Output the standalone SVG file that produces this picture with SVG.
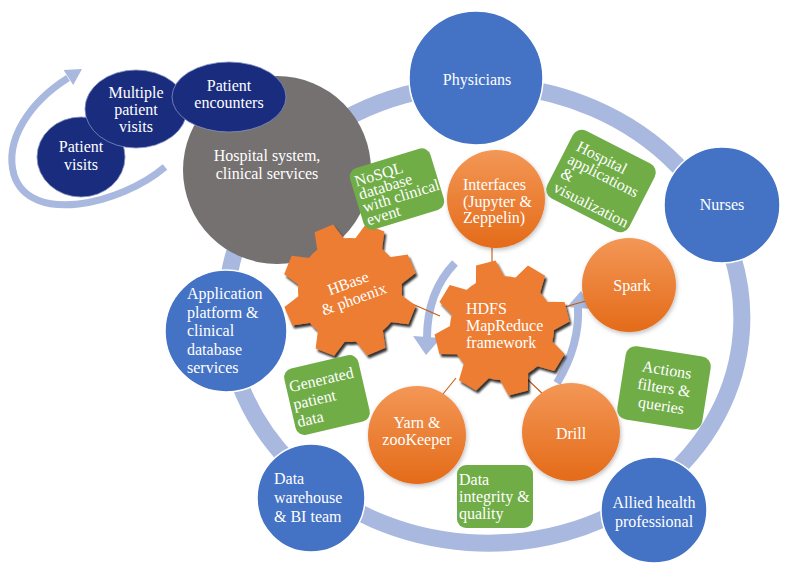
<svg xmlns="http://www.w3.org/2000/svg" xmlns:xlink="http://www.w3.org/1999/xlink" width="789" height="571" viewBox="0 0 789 571">
<style>
text{font-family:"Liberation Serif","DejaVu Serif",serif;fill:#fff;font-size:16px}
.mid{text-anchor:middle}
.blue{fill:#4472C4;stroke:#fff;stroke-width:1.5}
.navy{fill:#1A2C7E;stroke:#8390c0;stroke-width:0.8}
.green{fill:#70AD47}
.orange{fill:url(#og)}
.gear{fill:#ED7D31}
.link{stroke:#C55A11;stroke-width:1.1;fill:none}
.arc{fill:none;stroke:#A9B8DE}
.ah{fill:#A9B8DE}
</style>
<defs>
<linearGradient id="og" x1="0" y1="0" x2="0" y2="1">
<stop offset="0" stop-color="#F39756"/>
<stop offset="1" stop-color="#E46B19"/>
</linearGradient>
<filter id="gs" x="-20%" y="-20%" width="150%" height="150%">
<feDropShadow dx="2" dy="3" stdDeviation="1.2" flood-color="#000" flood-opacity="0.8"/>
</filter>
<filter id="cs" x="-20%" y="-20%" width="150%" height="150%">
<feDropShadow dx="1" dy="2" stdDeviation="2" flood-color="#000" flood-opacity="0.25"/>
</filter>
<polygon id="tooth" points="44,-16 67,-10 67,10 44,16"/>
<g id="gearshape">
<circle r="52"/>
<use xlink:href="#tooth"/>
<use xlink:href="#tooth" transform="rotate(45)"/>
<use xlink:href="#tooth" transform="rotate(90)"/>
<use xlink:href="#tooth" transform="rotate(135)"/>
<use xlink:href="#tooth" transform="rotate(180)"/>
<use xlink:href="#tooth" transform="rotate(225)"/>
<use xlink:href="#tooth" transform="rotate(270)"/>
<use xlink:href="#tooth" transform="rotate(315)"/>
</g>
</defs>
<rect width="789" height="571" fill="#fff"/>

<g id="ring">
<ellipse cx="484" cy="314" rx="258" ry="229" transform="rotate(4 484 314)" class="arc" stroke-width="17"/>
</g>

<g id="connectors">
<path class="arc" stroke-width="7" d="M165 167 C120 205 30 225 14 175 C4 140 30 102 68 78"/>
<polygon class="ah" points="82,69 73.2,85.1 63.6,69.9"/>
<path class="arc" stroke-width="8" d="M455 263 Q427 292 427 338"/>
<polygon class="ah" points="426,355 413,336 441,338"/>
<path class="arc" stroke-width="8" d="M557 383 Q580 345 578 306"/>
<polygon class="ah" points="581,291 567,307 591,309"/>
<line class="link" x1="492" y1="246" x2="492" y2="262"/>
<line class="link" x1="410" y1="303" x2="440" y2="316"/>
<line class="link" x1="546" y1="312" x2="586" y2="301"/>
<line class="link" x1="456" y1="378" x2="443" y2="394"/>
<line class="link" x1="526" y1="378" x2="546" y2="397"/>
</g>

<g id="hospital">
<circle cx="277" cy="170" r="94" fill="#767171"/>
<text class="mid" x="267" y="161">Hospital system,</text>
<text class="mid" x="267" y="179">clinical services</text>
</g>
<g id="patient-visits">
<ellipse class="navy" cx="81" cy="157" rx="44" ry="40"/>
<text class="mid" x="81" y="152">Patient</text>
<text class="mid" x="81" y="170">visits</text>
</g>
<g id="multiple-visits">
<ellipse class="navy" cx="136" cy="109" rx="51" ry="39"/>
<text class="mid" x="136" y="98">Multiple</text>
<text class="mid" x="136" y="115">patient</text>
<text class="mid" x="136" y="132">visits</text>
</g>
<g id="patient-encounters">
<ellipse class="navy" cx="229" cy="97" rx="57" ry="35"/>
<text class="mid" x="229" y="91">Patient</text>
<text class="mid" x="229" y="108">encounters</text>
</g>

<g id="physicians">
<circle class="blue" cx="476" cy="78" r="67"/>
<text class="mid" x="477" y="85">Physicians</text>
</g>
<g id="nurses">
<circle class="blue" cx="722" cy="205" r="58"/>
<text class="mid" x="722" y="210">Nurses</text>
</g>
<g id="allied">
<circle class="blue" cx="654" cy="510" r="53"/>
<text class="mid" x="654" y="508">Allied health</text>
<text class="mid" x="654" y="527">professional</text>
</g>
<g id="warehouse">
<circle class="blue" cx="311" cy="498" r="54"/>
<text x="274" y="484">Data</text>
<text x="274" y="503">warehouse</text>
<text x="274" y="522">&amp; BI team</text>
</g>
<g id="application">
<circle class="blue" cx="226" cy="331" r="61"/>
<text x="187" y="299">Application</text>
<text x="187" y="317.5">platform &amp;</text>
<text x="187" y="336">clinical</text>
<text x="187" y="354.5">database</text>
<text x="187" y="373">services</text>
</g>

<g id="hbase">
<g filter="url(#gs)"><use xlink:href="#gearshape" class="gear" transform="translate(350,290) rotate(-23)"/></g>
<g transform="translate(351,291) rotate(-20)">
<text class="mid" x="0" y="-3">HBase</text>
<text class="mid" x="0" y="14">&amp; phoenix</text>
</g>
</g>
<g id="hdfs">
<g filter="url(#gs)"><use xlink:href="#gearshape" class="gear" transform="translate(502,328) rotate(-14)"/></g>
<text x="466" y="314">HDFS</text>
<text x="466" y="331">MapReduce</text>
<text x="466" y="348">framework</text>
</g>

<g id="interfaces">
<circle class="orange" cx="496" cy="199" r="49" filter="url(#cs)"/>
<text x="463" y="190">Interfaces</text>
<text x="463" y="206.5">(Jupyter &amp;</text>
<text x="463" y="223">Zeppelin)</text>
</g>
<g id="spark">
<circle class="orange" cx="629" cy="285" r="47" filter="url(#cs)"/>
<text class="mid" x="632" y="291">Spark</text>
</g>
<g id="drill">
<circle class="orange" cx="571" cy="432" r="49" filter="url(#cs)"/>
<text class="mid" x="571" y="439">Drill</text>
</g>
<g id="yarn">
<circle class="orange" cx="417" cy="435" r="49" filter="url(#cs)"/>
<text class="mid" x="417" y="428">Yarn &amp;</text>
<text class="mid" x="417" y="445">zooKeeper</text>
</g>

<g id="nosql" transform="translate(397,189) rotate(-17)">
<rect class="green" x="-42" y="-32" width="84" height="64" rx="9"/>
<text x="-38" y="-14" font-size="13.5">NoSQL</text>
<text x="-38" y="-0.5" font-size="13.5">database</text>
<text x="-38" y="13" font-size="13.5">with clinical</text>
<text x="-38" y="26.5" font-size="13.5">event</text>
</g>
<g id="hospital-apps" transform="translate(601,181) rotate(27)">
<rect class="green" x="-46" y="-38" width="92" height="76" rx="10"/>
<text x="-37" y="-16" font-size="15">Hospital</text>
<text x="-39" y="-0.5" font-size="15">applications</text>
<text x="-39" y="15" font-size="15">&amp;</text>
<text x="-39" y="31" font-size="15">visualization</text>
</g>
<g id="actions" transform="translate(664,388) rotate(9)">
<rect class="green" x="-43" y="-37" width="86" height="74" rx="10"/>
<text class="mid" x="0" y="-13">Actions</text>
<text class="mid" x="0" y="5">filters &amp;</text>
<text class="mid" x="0" y="23">queries</text>
</g>
<g id="generated" transform="translate(327,395) rotate(-13)">
<rect class="green" x="-38" y="-34" width="76" height="68" rx="9"/>
<text x="-35" y="-11">Generated</text>
<text x="-35" y="7">patient</text>
<text x="-35" y="25">data</text>
</g>
<g id="integrity">
<rect class="green" x="457" y="465" width="76" height="63" rx="9"/>
<text x="459" y="485">Data</text>
<text x="459" y="502">integrity &amp;</text>
<text x="459" y="519">quality</text>
</g>
</svg>
